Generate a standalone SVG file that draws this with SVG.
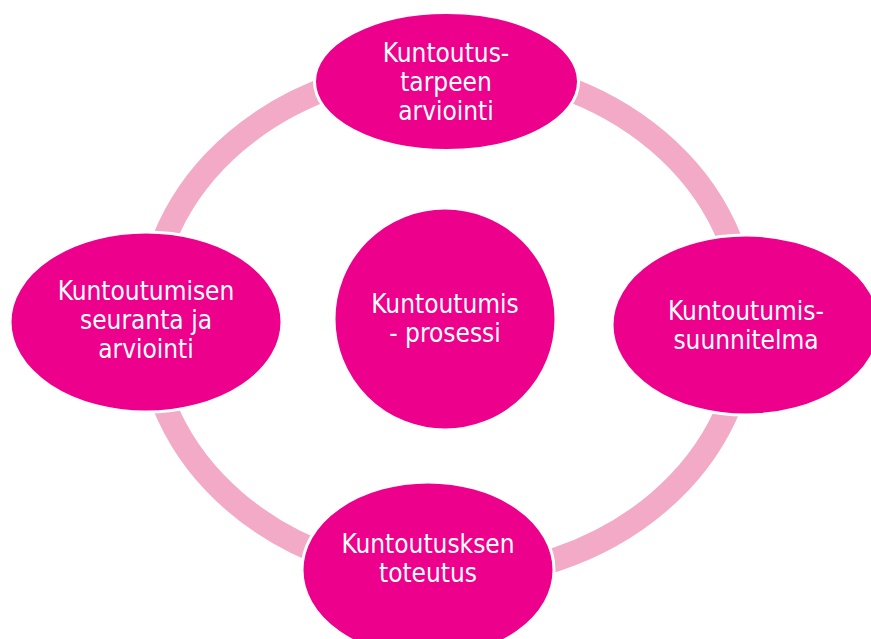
<svg xmlns="http://www.w3.org/2000/svg" width="871" height="639" viewBox="0 0 871 639">
<style>
.node{fill:#EC008C;stroke:#FFFFFF;stroke-width:3}
.ring{fill:none;stroke:#F3AAC6;stroke-width:24}
.lbl{fill:#FFFFFF;font-family:"DejaVu Sans Condensed","Liberation Sans",sans-serif;font-size:26px;text-anchor:middle}
</style>
<rect width="871" height="639" fill="#FFFFFF"/>
<g id="connectors">
<ellipse class="ring" cx="447" cy="322" rx="299" ry="255"/>
</g>
<g id="node-top">
<ellipse class="node" cx="446.5" cy="81.5" rx="132" ry="69"/>
<text class="lbl" x="446" y="62">Kuntoutus-</text>
<text class="lbl" x="446" y="91">tarpeen</text>
<text class="lbl" x="446" y="120">arviointi</text>
</g>
<g id="node-right">
<ellipse class="node" cx="746" cy="325" rx="134" ry="90"/>
<text class="lbl" x="746" y="320">Kuntoutumis-</text>
<text class="lbl" x="746" y="349">suunnitelma</text>
</g>
<g id="node-bottom">
<ellipse class="node" cx="428" cy="570" rx="126" ry="88"/>
<text class="lbl" x="428" y="553">Kuntoutusksen</text>
<text class="lbl" x="428" y="582">toteutus</text>
</g>
<g id="node-left">
<ellipse class="node" cx="146" cy="322" rx="136" ry="90"/>
<text class="lbl" x="146" y="300">Kuntoutumisen</text>
<text class="lbl" x="146" y="329">seuranta ja</text>
<text class="lbl" x="146" y="358">arviointi</text>
</g>
<g id="node-center">
<circle class="node" cx="445" cy="319" r="111"/>
<text class="lbl" x="445" y="313">Kuntoutumis</text>
<text class="lbl" x="445" y="342">- prosessi</text>
</g>
</svg>
